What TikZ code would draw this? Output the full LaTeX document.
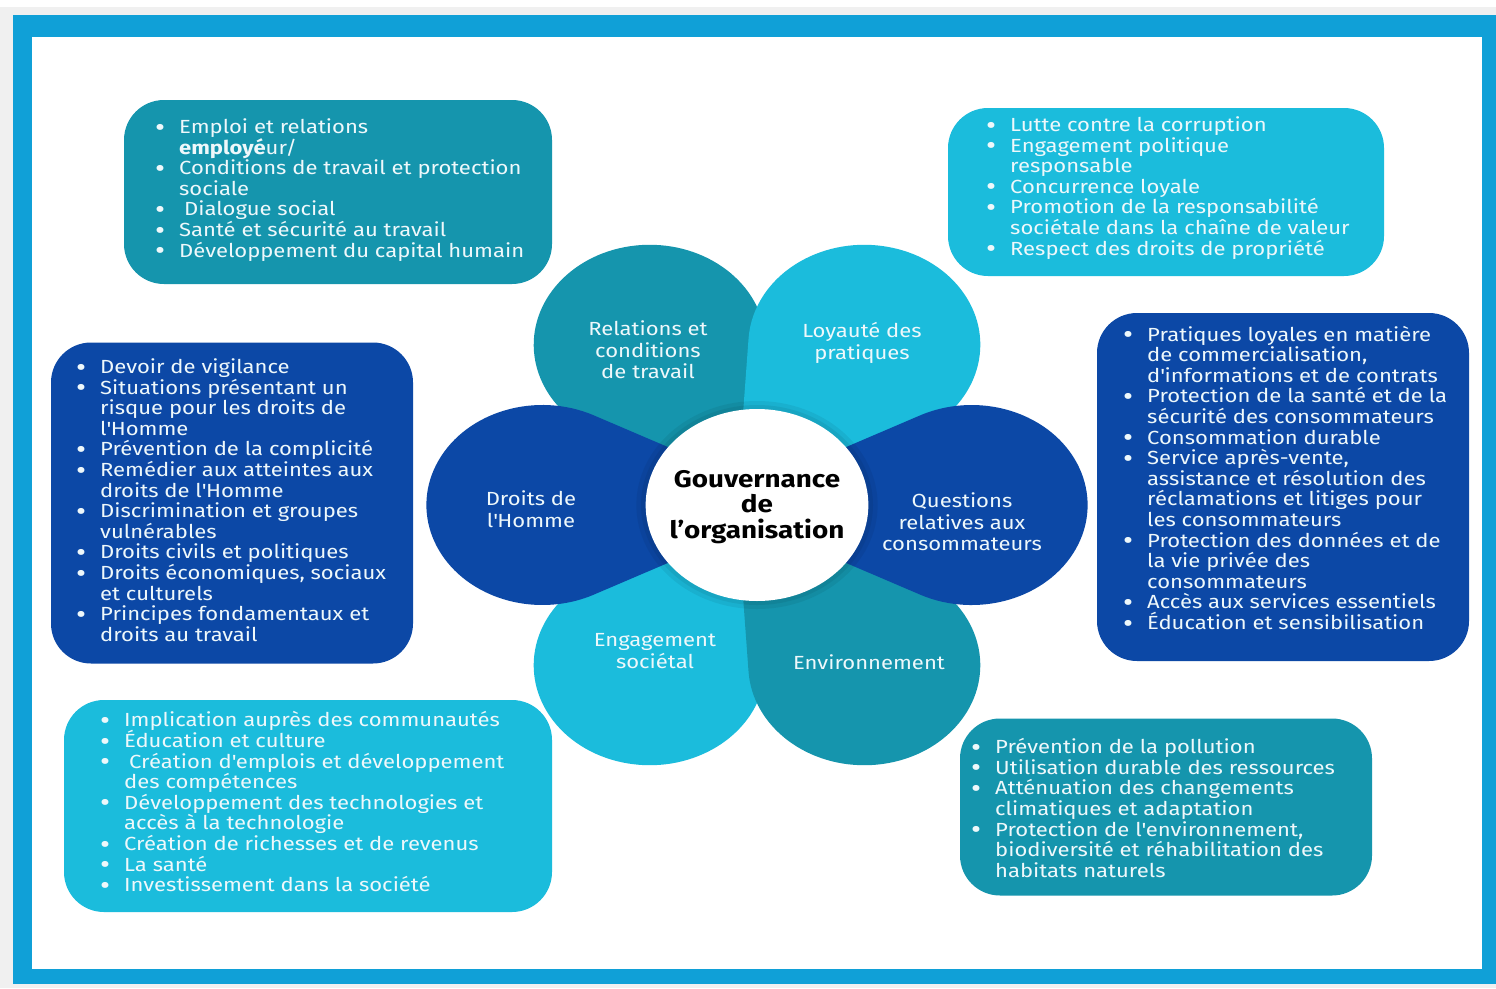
\documentclass[tikz,border=0pt]{standalone}
\usepackage{fontspec}
\setmainfont{Fira Sans}[FakeStretch=1.16]

\definecolor{frameblue}{HTML}{10A0D7}
\definecolor{tealc}{HTML}{1595AD}
\definecolor{cyanc}{HTML}{1BBCDC}
\definecolor{navyc}{HTML}{0C48A6}
\definecolor{pale}{HTML}{EEF8FB}
\definecolor{bgrey}{HTML}{F0F0F0}

\newcommand{\itm}{\makebox[24pt][l]{\raisebox{-2.6pt}{\scalebox{1.4}{\textbullet}}}}
\newcommand{\cnt}{\hspace*{24pt}}
\newcommand{\tightskip}{\setlength{\lineskiplimit}{-100pt}}
% one petal of the flower, #1 = direction, #2 = colour
\newcommand{\petal}[2]{\fill[#2,rotate=#1] (-40,0) -- (140.56,89.58)
    arc[start angle=116.39,end angle=-116.39,radius=100] -- cycle;}

\tikzset{
  box/.style={rounded corners=40pt,inner sep=0pt},
  listtxt/.style={anchor=west,inner sep=0pt,text=pale,align=left,
    font={\fontsize{19}{20.6}\selectfont\tightskip}},
  petaltxt/.style={align=center,inner sep=0pt,text=pale,
    font={\fontsize{19}{21.5}\selectfont\tightskip}}
}

\begin{document}
\begin{tikzpicture}[x=1pt,y=-1pt]
\useasboundingbox (0,0) rectangle (1496,988);
% frame
\fill[bgrey] (0,0) rectangle (1496,988);
\fill[white] (0,0) rectangle (1496,7);
\fill[frameblue] (13,15) rectangle (1496,984);
\fill[white] (32,37) rectangle (1482,969);

% boxes
\node[box,fill=tealc,minimum width=428pt,minimum height=184pt] (emploiBox) at (338,192) {};
\node[box,fill=cyanc,minimum width=436pt,minimum height=168pt] (loyauteBox) at (1166,192) {};
\node[box,fill=navyc,minimum width=372pt,minimum height=348pt] (consoBox) at (1283,487) {};
\node[box,fill=navyc,minimum width=362pt,minimum height=321pt] (droitsBox) at (232,503) {};
\node[box,fill=cyanc,minimum width=488pt,minimum height=212pt] (societeBox) at (308,806) {};
\node[box,fill=tealc,minimum width=412pt,minimum height=177pt] (envBox) at (1166,807) {};

\node[listtxt] (emploiTxt) at (155,190) {\itm Emploi et relations\\
\cnt\textbf{employé}ur/\\
\itm Conditions de travail et protection\\
\cnt sociale\\
\itm\hspace*{5pt}Dialogue social\\
\itm Santé et sécurité au travail\\
\itm Développement du capital humain};

\node[listtxt] (loyauteTxt) at (986,188) {\itm Lutte contre la corruption\\
\itm Engagement politique\\
\cnt responsable\\
\itm Concurrence loyale\\
\itm Promotion de la responsabilité\\
\cnt sociétale dans la chaîne de valeur\\
\itm Respect des droits de propriété};

\node[listtxt] (consoTxt) at (1123,479) {\itm Pratiques loyales en matière\\
\cnt de commercialisation,\\
\cnt d\textquotesingle informations et de contrats\\
\itm Protection de la santé et de la\\
\cnt sécurité des consommateurs\\
\itm Consommation durable\\
\itm Service après-vente,\\
\cnt assistance et résolution des\\
\cnt réclamations et litiges pour\\
\cnt les consommateurs\\
\itm Protection des données et de\\
\cnt la vie privée des\\
\cnt consommateurs\\
\itm Accès aux services essentiels\\
\itm Éducation et sensibilisation};

\node[listtxt] (droitsTxt) at (76,500) {\itm Devoir de vigilance\\
\itm Situations présentant un\\
\cnt risque pour les droits de\\
\cnt l\textquotesingle Homme\\
\itm Prévention de la complicité\\
\itm Remédier aux atteintes aux\\
\cnt droits de l\textquotesingle Homme\\
\itm Discrimination et groupes\\
\cnt vulnérables\\
\itm Droits civils et politiques\\
\itm Droits économiques, sociaux\\
\cnt et culturels\\
\itm Principes fondamentaux et\\
\cnt droits au travail};

\node[listtxt] (societeTxt) at (100,803) {\itm Implication auprès des communautés\\
\itm Éducation et culture\\
\itm\hspace*{5pt}Création d\textquotesingle emplois et développement\\
\cnt des compétences\\
\itm Développement des technologies et\\
\cnt accès à la technologie\\
\itm Création de richesses et de revenus\\
\itm La santé\\
\itm Investissement dans la société};

\node[listtxt] (envTxt) at (971,808) {\itm Prévention de la pollution\\
\itm Utilisation durable des ressources\\
\itm Atténuation des changements\\
\cnt climatiques et adaptation\\
\itm Protection de l\textquotesingle environnement,\\
\cnt biodiversité et réhabilitation des\\
\cnt habitats naturels};

% flower
\begin{scope}[shift={(757,505)},xscale=1.16]
  \petal{120}{tealc}
  \petal{-120}{cyanc}
  \petal{60}{cyanc}
  \petal{-60}{tealc}
  \petal{180}{navyc}
  \petal{0}{navyc}
  \fill[black,opacity=0.06] (0,0) circle[radius=104];
  \fill[black,opacity=0.06] (0,0) circle[radius=100];
  \fill[white] (0,0) circle[radius=96];
\end{scope}

\node[petaltxt] (relations) at (648,350) {Relations et\\conditions\\de travail};
\node[petaltxt] (loyaute) at (862,343) {Loyauté des\\pratiques};
\node[petaltxt] (droits) at (531,509) {Droits de\\l\textquotesingle Homme};
\node[petaltxt] (questions) at (962,522) {Questions\\relatives aux\\consommateurs};
\node[petaltxt] (engagement) at (655,651) {Engagement\\sociétal};
\node[petaltxt] (environnement) at (869,662) {Environnement};
\node[align=center,inner sep=0pt,font={\fontsize{24}{25.5}\selectfont\bfseries\tightskip}]
  (hub) at (757,507) {Gouvernance\\de\\l’organisation};
\end{tikzpicture}
\end{document}
